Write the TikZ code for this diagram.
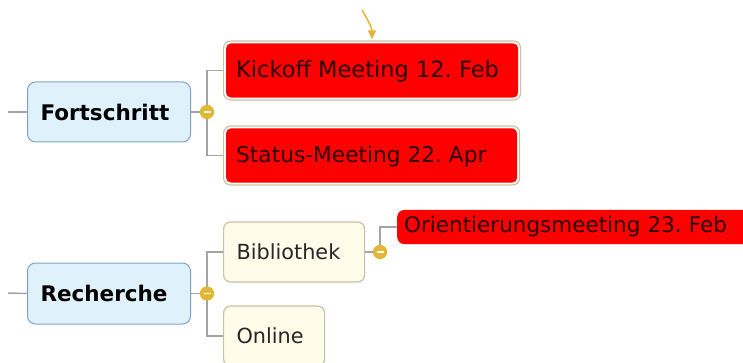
\documentclass[tikz,border=0pt]{standalone}
\usepackage{fontspec}
\setmainfont{DejaVu Sans}
\frenchspacing
\usetikzlibrary{arrows.meta}
\definecolor{topicfill}{HTML}{DFF1FB}
\definecolor{topicline}{HTML}{7FA3C8}
\definecolor{subfill}{HTML}{FFFCE9}
\definecolor{subline}{HTML}{C9C1A2}
\definecolor{conn}{HTML}{A4A4A4}
\definecolor{knob}{HTML}{E3B634}
\definecolor{hot}{HTML}{FF0000}
\definecolor{redtext}{HTML}{2A0000}
\tikzset{
  topic/.style={draw=topicline, line width=1pt, fill=topicfill, rounded corners=8pt, anchor=west,
    font=\fontsize{21.5}{24}\selectfont\bfseries, text=black, inner xsep=13pt, align=left},
  sub/.style={draw=subline, line width=1.2pt, fill=subfill, rounded corners=7pt, anchor=west,
    font=\fontsize{20.8}{24}\selectfont, text=black!85, inner xsep=13pt, align=left},
  redbox/.style={draw=subline, line width=1.2pt, fill=white, rounded corners=7pt, anchor=west,
    inner xsep=13pt},
  redlabel/.style={anchor=west, font=\fontsize{21.7}{24}\selectfont, text=redtext, inner sep=0pt},
  flag/.style={fill=hot, rounded corners=7pt, anchor=west,
    font=\fontsize{21.5}{24}\selectfont, text=redtext, inner xsep=7pt, align=left},
  conline/.style={draw=conn, line width=1.5pt},
  knobc/.style={circle, fill=knob, minimum size=14pt, inner sep=0pt},
}
\newcommand{\knobminus}[1]{\draw[white, line width=1.6pt] ([xshift=-3.5pt]#1.center) -- ([xshift=3.5pt]#1.center);}
\newcommand{\redinner}[1]{\fill[hot, rounded corners=5pt] ([shift={(3pt,-3pt)}]#1.north west) rectangle ([shift={(-3pt,3pt)}]#1.south east);}
\begin{document}
\begin{tikzpicture}[x=1pt,y=-1pt]
\useasboundingbox (0,0) rectangle (743,363);
% stubs
\coordinate (s1) at (8,112);
\coordinate (s2) at (8,293);
% topics
\node[topic, minimum width=163pt, minimum height=60pt, text width=137pt] (fort) at (27,112) {Fortschritt};
\node[topic, minimum width=163pt, minimum height=61pt, text width=137pt] (rech) at (27,293.5) {Recherche};
% red boxes
\node[redbox, minimum width=297pt, minimum height=59pt] (kick) at (223,70.5) {};
\redinner{kick}
\node[redlabel, font=\fontsize{22.5}{24}\selectfont] (kickt) at ([xshift=13pt,yshift=-1pt]kick.west) {Kickoff Meeting 12. Feb};
\node[redbox, minimum width=296pt, minimum height=59pt] (stat) at (223,155.5) {};
\redinner{stat}
\node[redlabel] (statt) at ([xshift=13pt,yshift=-1pt]stat.west) {Status-Meeting 22. Apr};
% subtopics
\node[sub, minimum width=141pt, minimum height=60pt, text width=115pt] (bib) at (223,252) {Bibliothek};
\node[sub, minimum width=101pt, minimum height=60pt, text width=75pt] (onl) at (223,336) {Online};
\node[flag, minimum width=360pt, minimum height=34pt, text width=346pt] (ori) at (397,227) {Orientierungsmeeting 23. Feb};
% knobs
\node[knobc] (k1) at (207,112) {};
\node[knobc] (k2) at (207,293.5) {};
\node[knobc] (k3) at (380,252) {};
% connectors
\draw[conline] (s1) -- (fort.west);
\draw[conline] (s2) -- (rech.west);
\draw[conline] (fort.east) -- (k1);
\draw[conline] (rech.east) -- (k2);
\draw[conline] (bib.east) -- (k3);
\draw[conline] (kick.west) -| (k1.center) |- (stat.west);
\draw[conline] (bib.west) -| (k2.center) |- (onl.west);
\draw[conline] (k3.center) |- (ori.west);
\node[knobc] at (k1) {};
\node[knobc] at (k2) {};
\node[knobc] at (k3) {};
\knobminus{k1}
\knobminus{k2}
\knobminus{k3}
% arrow
\coordinate (a0) at (362,10);
\draw[knob, line width=1.5pt, -{Triangle[length=9pt,width=8pt]}] (a0) .. controls (368,20) and (372,28) .. ([yshift=1pt]kick.north -| 372,0);
\end{tikzpicture}
\end{document}
